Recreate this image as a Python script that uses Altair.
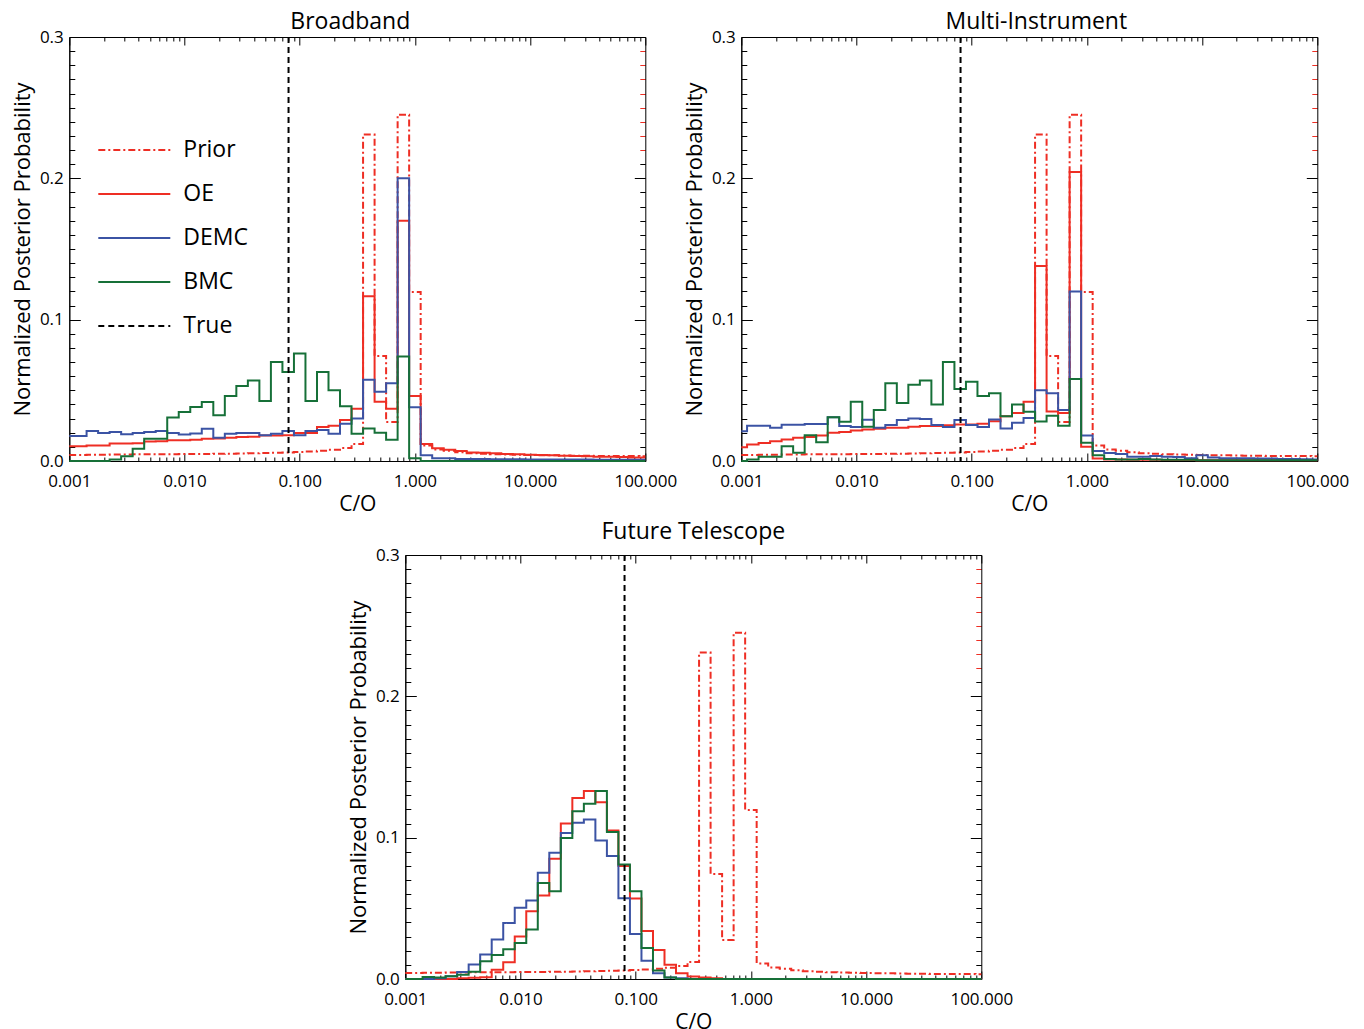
import altair as alt
import pandas as pd

# ---------------- data ----------------
LOG_CO = [round(-3 + 0.1 * i, 1) for i in range(51)]          # bin centres, log10(C/O)
CO = [10 ** v for v in LOG_CO]

PRIOR = [0.0042, 0.0043, 0.0044, 0.0045, 0.0046, 0.0046, 0.0047, 0.0047, 0.0048, 0.0048,
         0.0049, 0.0050, 0.0050, 0.0051, 0.0052, 0.0053, 0.0055, 0.0056, 0.0058, 0.0060,
         0.0063, 0.0067, 0.0072, 0.0080, 0.0092, 0.0120, 0.2310, 0.0743, 0.0276, 0.2450,
         0.1196, 0.0110, 0.0082, 0.0072, 0.0062, 0.0055, 0.0051, 0.0048, 0.0046, 0.0044,
         0.0042, 0.0041, 0.0040, 0.0039, 0.0038, 0.0037, 0.0036, 0.0036, 0.0035, 0.0035,
         0.0034]

# Broadband
OE_1 = [0.0104, 0.0104, 0.0110, 0.0110, 0.0123, 0.0123, 0.0125, 0.0138, 0.0140, 0.0146,
        0.0146, 0.0150, 0.0158, 0.0160, 0.0165, 0.0170, 0.0172, 0.0180, 0.0180, 0.0182,
        0.0198, 0.0198, 0.0240, 0.0250, 0.0290, 0.0370, 0.1165, 0.0420, 0.0370, 0.1700,
        0.0460, 0.0120, 0.0090, 0.0080, 0.0070, 0.0060, 0.0058, 0.0055, 0.0050, 0.0048,
        0.0045, 0.0042, 0.0040, 0.0038, 0.0035, 0.0033, 0.0030, 0.0030, 0.0028, 0.0025,
        0.0025]
DEMC_1 = [0.0177, 0.0177, 0.0212, 0.0198, 0.0205, 0.0189, 0.0198, 0.0205, 0.0212, 0.0198,
          0.0188, 0.0195, 0.0229, 0.0165, 0.0193, 0.0198, 0.0198, 0.0182, 0.0193, 0.0212,
          0.0182, 0.0212, 0.0220, 0.0193, 0.0264, 0.0300, 0.0575, 0.0490, 0.0550, 0.2000,
          0.0380, 0.0040, 0.0020, 0.0020, 0.0015, 0.0015, 0.0015, 0.0012, 0.0012, 0.0012,
          0.0010, 0.0010, 0.0010, 0.0010, 0.0010, 0.0010, 0.0008, 0.0008, 0.0008, 0.0008,
          0.0008]
BMC_1 = [0.0000, 0.0000, 0.0000, 0.0000, 0.0010, 0.0033, 0.0087, 0.0158, 0.0158, 0.0307,
         0.0347, 0.0382, 0.0418, 0.0323, 0.0460, 0.0530, 0.0570, 0.0425, 0.0700, 0.0630,
         0.0760, 0.0425, 0.0630, 0.0500, 0.0387, 0.0193, 0.0230, 0.0200, 0.0150, 0.0740,
         0.0020, 0.0000, 0.0000, 0.0000, 0.0000, 0.0000, 0.0000, 0.0000, 0.0000, 0.0000,
         0.0000, 0.0000, 0.0000, 0.0000, 0.0000, 0.0000, 0.0000, 0.0000, 0.0000, 0.0000,
         0.0000]

# Multi-Instrument
OE_2 = [0.0098, 0.0117, 0.0128, 0.0140, 0.0152, 0.0164, 0.0170, 0.0180, 0.0200, 0.0205,
        0.0216, 0.0222, 0.0228, 0.0235, 0.0235, 0.0242, 0.0247, 0.0247, 0.0253, 0.0258,
        0.0258, 0.0263, 0.0282, 0.0317, 0.0340, 0.0420, 0.1380, 0.0350, 0.0340, 0.2045,
        0.0100, 0.0017, 0.0010, 0.0010, 0.0008, 0.0008, 0.0008, 0.0007, 0.0007, 0.0007,
        0.0006, 0.0006, 0.0006, 0.0005, 0.0005, 0.0005, 0.0005, 0.0005, 0.0005, 0.0005,
        0.0005]
DEMC_2 = [0.0210, 0.0250, 0.0250, 0.0235, 0.0257, 0.0257, 0.0262, 0.0262, 0.0310, 0.0247,
          0.0240, 0.0291, 0.0235, 0.0255, 0.0290, 0.0300, 0.0298, 0.0255, 0.0240, 0.0290,
          0.0255, 0.0240, 0.0294, 0.0230, 0.0270, 0.0305, 0.0500, 0.0480, 0.0360, 0.1200,
          0.0180, 0.0070, 0.0057, 0.0050, 0.0030, 0.0030, 0.0035, 0.0030, 0.0028, 0.0020,
          0.0040, 0.0025, 0.0020, 0.0020, 0.0020, 0.0018, 0.0018, 0.0015, 0.0015, 0.0012,
          0.0010]
BMC_2 = [0.0000, 0.0010, 0.0030, 0.0030, 0.0105, 0.0058, 0.0183, 0.0133, 0.0310, 0.0277,
         0.0419, 0.0242, 0.0360, 0.0550, 0.0410, 0.0540, 0.0570, 0.0400, 0.0700, 0.0510,
         0.0560, 0.0460, 0.0480, 0.0317, 0.0400, 0.0348, 0.0280, 0.0320, 0.0250, 0.0580,
         0.0130, 0.0040, 0.0015, 0.0010, 0.0010, 0.0015, 0.0010, 0.0008, 0.0008, 0.0008,
         0.0005, 0.0005, 0.0005, 0.0005, 0.0005, 0.0005, 0.0005, 0.0005, 0.0005, 0.0005,
         0.0005]

# Future Telescope
OE_3 = [0.0000, 0.0000, 0.0000, 0.0000, 0.0000, 0.0005, 0.0008, 0.0012, 0.0066, 0.0118,
        0.0300, 0.0480, 0.0590, 0.0850, 0.1100, 0.1280, 0.1330, 0.1250, 0.1050, 0.0800,
        0.0570, 0.0340, 0.0206, 0.0100, 0.0040, 0.0017, 0.0010, 0.0005, 0.0000, 0.0000,
        0.0000, 0.0000, 0.0000, 0.0000, 0.0000, 0.0000, 0.0000, 0.0000, 0.0000, 0.0000,
        0.0000, 0.0000, 0.0000, 0.0000, 0.0000, 0.0000, 0.0000, 0.0000, 0.0000, 0.0000,
        0.0000]
DEMC_3 = [0.0000, 0.0000, 0.0000, 0.0005, 0.0020, 0.0050, 0.0102, 0.0173, 0.0279, 0.0397,
          0.0504, 0.0556, 0.0752, 0.0894, 0.1033, 0.1106, 0.1128, 0.0980, 0.0870, 0.0572,
          0.0319, 0.0130, 0.0040, 0.0010, 0.0005, 0.0000, 0.0000, 0.0000, 0.0000, 0.0000,
          0.0000, 0.0000, 0.0000, 0.0000, 0.0000, 0.0000, 0.0000, 0.0000, 0.0000, 0.0000,
          0.0000, 0.0000, 0.0000, 0.0000, 0.0000, 0.0000, 0.0000, 0.0000, 0.0000, 0.0000,
          0.0000]
BMC_3 = [0.0000, 0.0000, 0.0015, 0.0010, 0.0020, 0.0030, 0.0052, 0.0125, 0.0170, 0.0210,
         0.0255, 0.0350, 0.0680, 0.0620, 0.0998, 0.1187, 0.1240, 0.1330, 0.1040, 0.0810,
         0.0620, 0.0220, 0.0060, 0.0010, 0.0000, 0.0000, 0.0000, 0.0000, 0.0000, 0.0000,
         0.0000, 0.0000, 0.0000, 0.0000, 0.0000, 0.0000, 0.0000, 0.0000, 0.0000, 0.0000,
         0.0000, 0.0000, 0.0000, 0.0000, 0.0000, 0.0000, 0.0000, 0.0000, 0.0000, 0.0000,
         0.0000]

TRUE_CO = 0.08

SERIES = ["Prior", "OE", "DEMC", "BMC", "True"]
COLORS = ["#EE2E24", "#EE2E24", "#3B53A4", "#167038", "#000000"]
DASHES = [[7, 3, 2, 3], [1, 0], [1, 0], [1, 0], [6, 4]]

X_LABELS = [0.001, 0.01, 0.1, 1, 10, 100]
X_TICKS = [m * d for d in X_LABELS[:-1] for m in range(1, 10)] + [100]
Y_LABELS = [0.0, 0.1, 0.2, 0.3]
Y_TICKS = [round(0.01 * i, 2) for i in range(31)]

# ---------------- styling ----------------
W, H = 576, 424
FONT = "Open Sans"
RED = "#EE2E24"

xs = alt.Scale(type="log", domain=[0.001, 100], nice=False)
ys = alt.Scale(domain=[0, 0.3], nice=False, zero=False)

X_MAJOR_TEST = "abs(log(datum.value)/LN10 - round(log(datum.value)/LN10)) < 0.01"
Y_MAJOR_TEST = "abs(datum.value*10 - round(datum.value*10)) < 0.01"


def x_label_axis():
    return alt.Axis(orient="bottom", values=X_LABELS, format=".3f", ticks=False,
                    domain=True, domainColor="black", domainWidth=1, grid=False,
                    labelPadding=12, labelFont=FONT, labelFontSize=17, labelColor="black",
                    labelFlush=False, labelOverlap=False,
                    title="C/O", titleFont=FONT, titleFontSize=21, titleFontWeight="normal",
                    titleColor="black", titlePadding=4)


def y_label_axis():
    return alt.Axis(orient="left", values=Y_LABELS, format=".1f", ticks=False,
                    domain=True, domainColor="black", domainWidth=1, grid=False,
                    labelPadding=6, labelFont=FONT, labelFontSize=17, labelColor="black",
                    labelOffset=0, labelFlush=False, labelOverlap=False,
                    title="Normalized Posterior Probability", titleFont=FONT,
                    titleFontSize=22, titleFontWeight="normal", titleColor="black",
                    titlePadding=5)


def x_tick_axis(orient):
    return alt.Axis(orient=orient, offset=-H, values=X_TICKS, labels=False, title=None,
                    grid=False, domain=True, domainColor="black", domainWidth=1,
                    tickColor="black", tickWidth=1,
                    tickSize={"condition": {"test": X_MAJOR_TEST, "value": 8}, "value": 4})


def y_tick_axis(orient, red_top=False):
    color = {"condition": {"test": "datum.value > 0.215 && datum.value < 0.295", "value": RED},
             "value": "black"} if red_top else "black"
    return alt.Axis(orient=orient, offset=-W, values=Y_TICKS, labels=False, title=None,
                    grid=False, domain=True, domainColor="black", domainWidth=1,
                    tickColor=color, tickWidth=1,
                    tickSize={"condition": {"test": Y_MAJOR_TEST, "value": 11}, "value": 5.5})


def panel(title, title_offset, title_dx, oe, demc, bmc, legend):
    rows = []
    for name, vals in [("Prior", PRIOR), ("OE", oe), ("DEMC", demc), ("BMC", bmc)]:
        for c, v in zip(CO, vals):
            rows.append({"co": c, "p": v, "series": name})
    df = pd.DataFrame(rows)
    tdf = pd.DataFrame({"co": [TRUE_CO], "series": ["True"]})

    if legend:
        leg = alt.Legend(orient="none", legendX=28, legendY=101, title=None,
                         symbolType="stroke", symbolSize=72 * 72, symbolStrokeWidth=2,
                         clipHeight=24, rowPadding=20, padding=0,
                         labelFont=FONT, labelFontSize=23, labelColor="black",
                         labelOffset=12)
    else:
        leg = None
    color = alt.Color("series:N", scale=alt.Scale(domain=SERIES, range=COLORS), legend=leg)
    dash = alt.StrokeDash("series:N", scale=alt.Scale(domain=SERIES, range=DASHES), legend=leg)

    base = alt.Chart(df)
    layers = []
    for i, name in enumerate(["Prior", "OE", "DEMC", "BMC"]):
        if i == 0:
            xe = alt.X("co:Q", scale=xs, axis=x_label_axis())
            ye = alt.Y("p:Q", scale=ys, axis=y_label_axis())
        else:
            xe = alt.X("co:Q", scale=xs, axis=None)
            ye = alt.Y("p:Q", scale=ys, axis=None)
        layers.append(
            base.transform_filter(alt.datum.series == name)
            .mark_line(interpolate="step", strokeWidth=2)
            .encode(x=xe, y=ye, color=color, strokeDash=dash)
        )
    layers.append(
        alt.Chart(tdf).mark_rule(strokeWidth=2)
        .encode(x=alt.X("co:Q", scale=xs, axis=None), color=color, strokeDash=dash)
    )
    # inward ticks on bottom and left
    layers.append(
        base.mark_point(opacity=0, size=1).encode(
            x=alt.X("co:Q", scale=xs, axis=x_tick_axis("top")),
            y=alt.Y("p:Q", scale=ys, axis=y_tick_axis("right")))
    )
    # inward ticks on top and right
    layers.append(
        base.mark_point(opacity=0, size=1).encode(
            x=alt.X("co:Q", scale=xs, axis=x_tick_axis("bottom")),
            y=alt.Y("p:Q", scale=ys, axis=y_tick_axis("left", red_top=True)))
    )
    return (
        alt.layer(*layers)
        .resolve_axis(x="independent", y="independent")
        .properties(width=W, height=H,
                    title=alt.TitleParams(title, font=FONT, fontSize=23, fontWeight="normal",
                                          color="black", anchor="middle",
                                          offset=title_offset, dx=title_dx))
    )


p1 = panel("Broadband", -6, -7, OE_1, DEMC_1, BMC_1, True)
p2 = panel("Multi-Instrument", -6, 7, OE_2, DEMC_2, BMC_2, False)
p3 = panel("Future Telescope", 2, 0, OE_3, DEMC_3, BMC_3, False)

top = alt.hconcat(p1, p2, spacing=6).resolve_scale(color="independent", strokeDash="independent")
chart = (
    alt.vconcat(top, p3, spacing=7, center=True)
    .resolve_scale(color="independent", strokeDash="independent")
    .properties(padding={"left": 3, "top": 3, "right": 0, "bottom": 0}, background="white")
    .configure_view(stroke=None)
)

chart.save("out.html", embed_options={"renderer": "svg", "actions": False})
